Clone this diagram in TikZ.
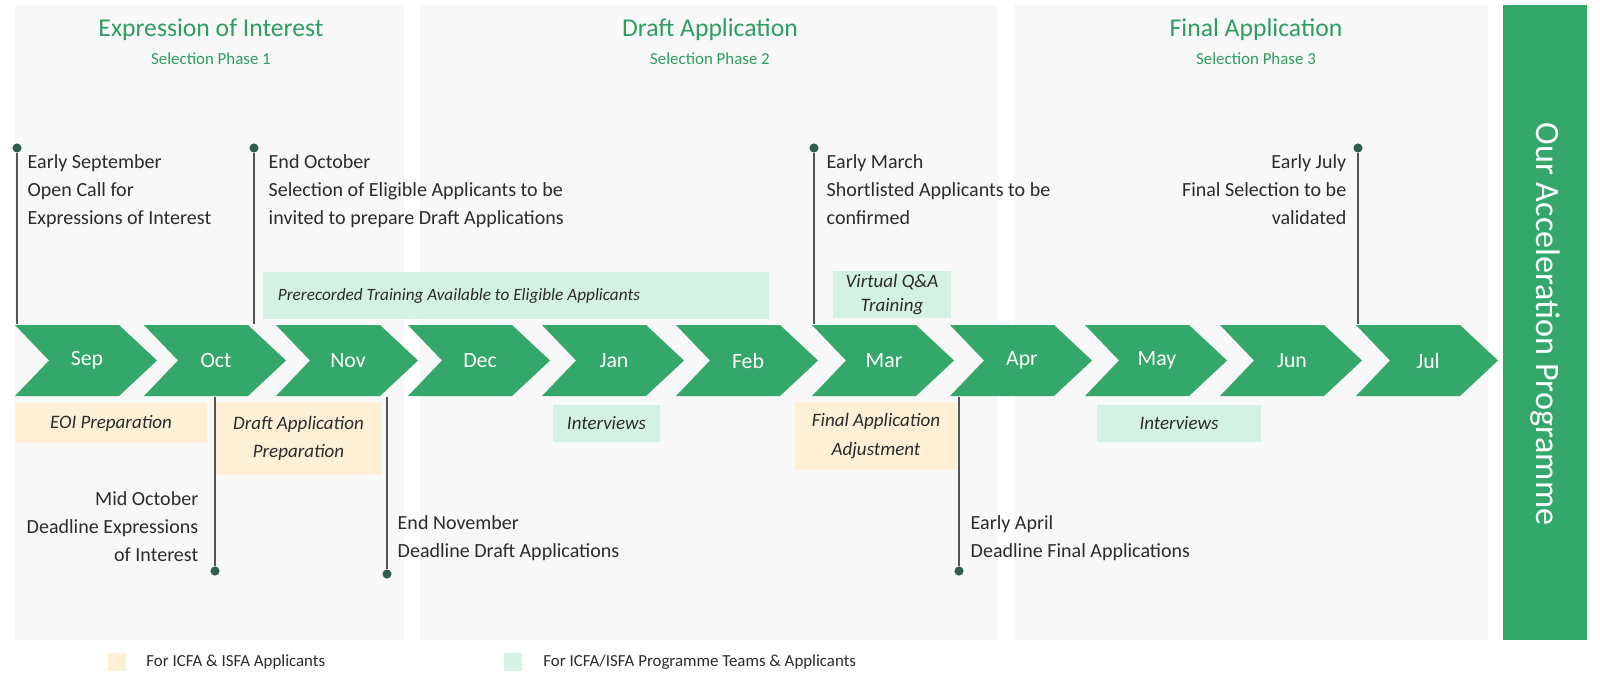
\documentclass[tikz,border=0pt]{standalone}
\usepackage{fontspec}
\setmainfont{Carlito}
\usetikzlibrary{positioning}

\definecolor{leafgreen}{HTML}{34A86A}
\definecolor{titlegreen}{HTML}{2E9E60}
\definecolor{panelgray}{HTML}{F8F8F8}
\definecolor{mint}{HTML}{D4F2E3}
\definecolor{cream}{HTML}{FDF0D6}
\definecolor{stemgray}{HTML}{555555}
\definecolor{dotgreen}{HTML}{2F5E50}
\definecolor{inkgray}{HTML}{2B2B2B}

\begin{document}
\begin{tikzpicture}[x=0.01cm,y=-0.01cm]
        \tikzset{monthlabel/.style = {text=white, minimum width=1.04cm, minimum height=0.71cm, inner sep=0pt, font=\fontsize{6.2}{7}\selectfont},
                 vertex/.style = {shape=circle, fill=dotgreen, inner sep=0pt, minimum size=2.6pt},
                 stem/.style = {draw=stemgray, line width=0.45pt},
                 note/.style = {text=inkgray, inner sep=0pt, font=\fontsize{5.7}{8}\selectfont},
                 phase/.style = {text=titlegreen, inner sep=0pt, anchor=base, font=\fontsize{7.3}{8}\selectfont},
                 subphase/.style = {text=titlegreen, inner sep=0pt, anchor=base, font=\fontsize{4.8}{6}\selectfont},
                 task/.style = {text=inkgray, inner sep=0pt, align=center, font=\fontsize{5.4}{8}\selectfont\itshape},
                 keybox/.style = {minimum width=0.18cm, minimum height=0.18cm, inner sep=0pt},
                 legendtext/.style = {text=inkgray, inner sep=0pt, font=\fontsize{4.8}{6}\selectfont}};
        \useasboundingbox (0,0) rectangle (1600,672);
        % phase panels and programme bar
        \fill[panelgray] (15,5) rectangle (404,640);
        \fill[panelgray] (420,5) rectangle (998,640);
        \fill[panelgray] (1014,5) rectangle (1488,640);
        \fill[leafgreen] (1503,5) rectangle (1587,640);
        \node[rotate=-90, text=white, font=\fontsize{9.7}{11}\selectfont] (programme) at (1545,324) {Our Acceleration Programme};
        % phase titles
        \node[phase] (eoi) at (211,36) {Expression of Interest};
        \node[subphase] (eoisub) at (211,64) {Selection Phase 1};
        \node[phase] (draft) at (710,36) {Draft Application};
        \node[subphase] (draftsub) at (710,64) {Selection Phase 2};
        \node[phase] (final) at (1256,36) {Final Application};
        \node[subphase] (finalsub) at (1256,64) {Selection Phase 3};
        % activity boxes
        \node[task, fill=mint, minimum width=5.06cm, minimum height=0.47cm, text width=4.76cm, inner xsep=0.15cm, align=flush left, font=\fontsize{4.9}{8}\selectfont\itshape] (training) at (516,295.5) {Prerecorded Training Available to Eligible Applicants};
        \node[task, fill=mint, minimum width=1.18cm, minimum height=0.47cm, font=\fontsize{5.4}{6.8}\selectfont\itshape] (qa) at (892,294.5) {Virtual Q\&A\\Training};
        \node[task, fill=cream, minimum width=1.92cm, minimum height=0.40cm] (eoiprep) at (111,423) {EOI Preparation};
        \node[task, fill=cream, minimum width=1.67cm, minimum height=0.73cm] (draftprep) at (298.5,438.5) {Draft Application\\Preparation};
        \node[task, fill=mint, minimum width=1.07cm, minimum height=0.37cm] (janint) at (606.5,423.5) {Interviews};
        \node[task, fill=cream, minimum width=1.62cm, minimum height=0.68cm] (finaladj) at (876,436) {Final Application\\Adjustment};
        \node[task, fill=mint, minimum width=1.64cm, minimum height=0.37cm] (mayint) at (1179,423.5) {Interviews};
        % months
        \foreach \m/\x in {Sep/15,Oct/144,Nov/276,Dec/408,Jan/542,Feb/676,Mar/812,Apr/950,May/1085,Jun/1220,Jul/1356}{
                \fill[leafgreen] (\x,325) -- ++(104,0) -- ++(38,35.5) -- ++(-38,35.5) -- ++(-104,0) -- ++(34,-35.5) -- cycle;
                \node[monthlabel] (\m) at (\x+72,360.5) {\m};
        }
        % milestones above
        \node[vertex] (sepdot) at (17,148) {};
        \draw[stem] (sepdot) -- (sepdot |- Sep.north);
        \node[note, anchor=north west, align=left] (sepnote) at (27,153.4) {Early September\\Open Call for\\Expressions of Interest};
        \node[vertex] (octdot) at (254,148) {};
        \draw[stem] (octdot) -- (octdot |- Oct.north);
        \node[note, anchor=north west, align=left] (octnote) at (268,153.4) {End October\\Selection of Eligible Applicants to be\\invited to prepare Draft Applications};
        \node[vertex] (mardot) at (814,148) {};
        \draw[stem] (mardot) -- (mardot |- Mar.north);
        \node[note, anchor=north west, align=left] (marnote) at (826,153.4) {Early March\\Shortlisted Applicants to be\\confirmed};
        \node[vertex] (juldot) at (1358,148) {};
        \draw[stem] (juldot) -- (juldot |- Jul.north);
        \node[note, anchor=north east, align=right] (julnote) at (1347,153.4) {Early July\\Final Selection to be\\validated};
        % milestones below
        \node[vertex] (midoctdot) at (215,571) {};
        \draw[stem] (midoctdot |- Oct.south) -- (midoctdot);
        \node[note, anchor=north east, align=right] (midoctnote) at (199,490.4) {Mid October\\Deadline Expressions\\of Interest};
        \node[vertex] (novdot) at (387,574) {};
        \draw[stem] (novdot |- Nov.south) -- (novdot);
        \node[note, anchor=north west, align=left] (novnote) at (397,514.4) {End November\\Deadline Draft Applications};
        \node[vertex] (aprdot) at (959,571) {};
        \draw[stem] (aprdot |- Apr.south) -- (aprdot);
        \node[note, anchor=north west, align=left] (aprnote) at (970,514.4) {Early April\\Deadline Final Applications};
        % legend
        \node[keybox, fill=cream] (creamkey) at (117,662) {};
        \node[legendtext, right=0.19cm of creamkey] (creamtext) {For ICFA \& ISFA Applicants};
        \node[keybox, fill=mint] (mintkey) at (513,662) {};
        \node[legendtext, right=0.2cm of mintkey] (minttext) {For ICFA/ISFA Programme Teams \& Applicants};
\end{tikzpicture}
\end{document}
